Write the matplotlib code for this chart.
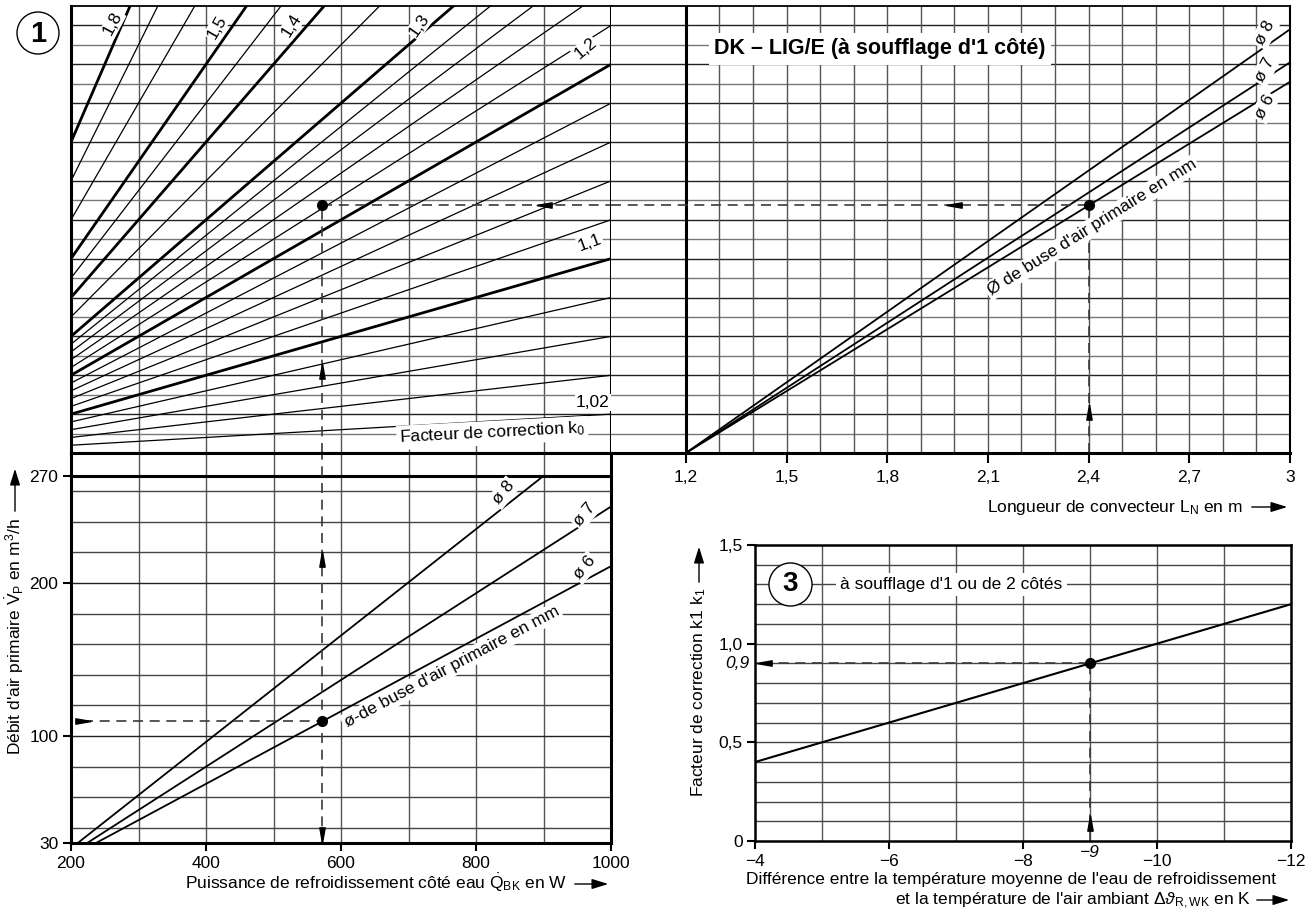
import numpy as np
import matplotlib.pyplot as plt
from matplotlib.patches import Ellipse, FancyArrowPatch

plt.rcParams['font.family'] = ['Liberation Sans', 'DejaVu Sans']
plt.rcParams['mathtext.fontset'] = 'custom'
plt.rcParams['mathtext.rm'] = 'Liberation Sans'
plt.rcParams['mathtext.it'] = 'Liberation Sans:italic'
plt.rcParams['mathtext.bf'] = 'Liberation Sans:bold'
plt.rcParams['font.size'] = 12.5

# --- panel 1 top left: correction factor k0 (extra power dQ in W, read at Q=200 and Q=1000)
k0_values = [1.02, 1.04, 1.06, 1.08, 1.10, 1.12, 1.14, 1.16, 1.18, 1.20, 1.22,
             1.24, 1.26, 1.28, 1.30, 1.35, 1.40, 1.45, 1.50, 1.60, 1.70, 1.80]
dq_at_200 = [4, 8, 12, 16, 20, 24, 28, 32, 36, 40, 44,
             48, 52, 56, 60, 70, 80, 90, 100, 120, 140, 160]
dq_at_1000 = [20, 40, 60, 80, 100, 120, 140, 160, 180, 200, 220,
              240, 260, 280, 300, 350, 400, 450, 500, 600, 700, 800]
k0_bold = [1.10, 1.20, 1.30, 1.40, 1.50, 1.80]

# --- panel 1 top right: nozzle lines, dQ vs convector length
nozzles = ['ø 8', 'ø 7', 'ø 6']
length_span = [1.2, 3.0]
dq_nozzle_end = [218, 201, 191]
length_ticks = [1.2, 1.5, 1.8, 2.1, 2.4, 2.7, 3.0]
length_labels = ['1,2', '1,5', '1,8', '2,1', '2,4', '2,7', '3']

# --- panel 1 bottom left: primary air flow vs cooling power
q_nozzle_start = [210, 224, 237]
q_nozzle_end = [900, 1000, 1000]
v_nozzle_end = [270, 250, 211]
q_ticks = [200, 400, 600, 800, 1000]
v_ticks = [30, 100, 200, 270]

# --- panel 3: correction factor k1
dtheta = [-4, -12]
k1 = [0.4, 1.2]
dtheta_ticks = [-4, -6, -8, -10, -12]
k1_ticks = [0, 0.5, 1.0, 1.5]
k1_labels = ['0', '0,5', '1,0', '1,5']

# worked example
q_ex, dq_ex, len_ex, v_ex = 572, 127.5, 2.4, 110
dt_ex, k1_ex = -9, 0.9

W, H = 1307, 916
fig = plt.figure(figsize=(W / 100, H / 100), dpi=100)


def add_ax(l, t, r, b):
    return fig.add_axes([l / W, 1 - b / H, (r - l) / W, (b - t) / H])


def fxy(x, y):
    return (x / W, 1 - y / H)


def fig_arrow(x0, y0, x1, y1):
    fig.add_artist(FancyArrowPatch(fxy(x0, y0), fxy(x1, y1), transform=fig.transFigure,
                                   arrowstyle='-|>,head_length=0.9,head_width=0.28',
                                   mutation_scale=11, lw=1, color='k'))


ax_tl = add_ax(71, 6, 611, 453)
ax_tr = add_ax(611, 6, 1290, 453)
ax_bl = add_ax(71, 453, 611, 843)
ax_br = add_ax(755, 545, 1291, 841)

GRID_D, GRID_L = '#222222', '#777777'
DASH = dict(color='#3a3a3a', lw=1.2, ls=(0, (6, 4)), zorder=2.5)
ARR_L = [(-1, 0), (1, 0.35), (1, -0.35), (-1, 0)]
ARR_R = [(1, 0), (-1, 0.35), (-1, -0.35), (1, 0)]
ARR_U = [(0, 1), (0.35, -1), (-0.35, -1), (0, 1)]
ARR_D = [(0, -1), (0.35, 1), (-0.35, 1), (0, -1)]
BOX = dict(facecolor='white', edgecolor='none', pad=1.5)

# ---------------- top left
ax_tl.set_xlim(200, 1000)
ax_tl.set_ylim(0, 230)
for q in range(300, 1000, 100):
    ax_tl.axvline(q, color='#555555', lw=1, zorder=1)
for y in range(10, 230, 10):
    c = GRID_D if (y // 10) % 2 == 0 else GRID_L
    ax_tl.axhline(y, color=c, lw=1, zorder=1)
    ax_tr.axhline(y, color=c, lw=1, zorder=1)
for k, a, b in zip(k0_values, dq_at_200, dq_at_1000):
    ax_tl.plot([200, 1000], [a, b], color='k', lw=2.0 if k in k0_bold else 0.9, zorder=2)
for txt, q, y, rot in [('1,8', 262, 221, 62), ('1,5', 416, 219, 60), ('1,4', 527, 220, 58),
                       ('1,3', 716, 220, 55), ('1,2', 962, 208, 40), ('1,1', 969, 108, 20),
                       ('1,02', 973, 26, 0)]:
    ax_tl.text(q, y, txt, rotation=rot, ha='center', va='center', zorder=3,
               bbox=dict(facecolor='white', edgecolor='none', pad=0.8))
ax_tl.text(824, 10.3, 'Facteur de correction k$_0$', rotation=3, ha='center', va='center',
           zorder=3, bbox=dict(facecolor='white', edgecolor='none', pad=2))
ax_tl.plot([q_ex, q_ex], [0, dq_ex], **DASH)
ax_tl.plot([q_ex, 1000], [dq_ex, dq_ex], **DASH)
ax_tl.plot(q_ex, dq_ex, 'o', color='k', ms=7, zorder=5)
ax_tl.plot(900, dq_ex, marker=ARR_L, color='k', ms=11, zorder=5)
ax_tl.plot(q_ex, 42, marker=ARR_U, color='k', ms=11, zorder=5)
ax_tl.set_xticks([])
ax_tl.set_yticks([])
for s in ['left', 'right', 'bottom']:
    ax_tl.spines[s].set_linewidth(2.2)
ax_tl.spines['top'].set_linewidth(1.3)

# ---------------- top right
ax_tr.set_xlim(0.977, 3.0)
ax_tr.set_ylim(0, 230)
for x in np.arange(1.3, 2.95, 0.1):
    ax_tr.axvline(x, color='#555555', lw=1, zorder=1)
ax_tr.axvline(1.2, color='k', lw=2.2, zorder=2)
for name, yend in zip(nozzles, dq_nozzle_end):
    ax_tr.plot(length_span, [0, yend], color='k', lw=1.3, zorder=2)
for txt, y in zip(nozzles, [216, 197, 178]):
    ax_tr.text(2.925, y, txt, rotation=62, ha='center', va='center', zorder=3, bbox=BOX)
ax_tr.text(1.778, 208, "DK – LIG/E (à soufflage d'1 côté)", fontsize=15.5, fontweight='bold',
           ha='center', va='center', zorder=3,
           bbox=dict(facecolor='white', edgecolor='none', pad=4))
ax_tr.text(2.41, 116, "Ø de buse d'air primaire en mm", rotation=32, rotation_mode='anchor',
           ha='center', va='center', zorder=3, bbox=BOX)
ax_tr.plot([0.977, len_ex], [dq_ex, dq_ex], **DASH)
ax_tr.plot([len_ex, len_ex], [0, dq_ex], **DASH)
ax_tr.plot(len_ex, dq_ex, 'o', color='k', ms=7, zorder=5)
ax_tr.plot(2.0, dq_ex, marker=ARR_L, color='k', ms=11, zorder=5)
ax_tr.plot(len_ex, 21, marker=ARR_U, color='k', ms=11, zorder=5)
ax_tr.set_xticks(length_ticks)
ax_tr.set_xticklabels(length_labels)
ax_tr.set_yticks([])
ax_tr.tick_params(axis='x', direction='out', length=7, width=1.5, pad=5)
ax_tr.spines['left'].set_visible(False)
ax_tr.spines['bottom'].set_linewidth(2.2)
ax_tr.spines['top'].set_linewidth(1.3)
ax_tr.spines['right'].set_linewidth(1.5)

# ---------------- bottom left
ax_bl.set_xlim(200, 1000)
ax_bl.set_ylim(30, 285)
for q in range(300, 1000, 100):
    ax_bl.axvline(q, color='#555555', lw=1, zorder=1)
for v in range(40, 261, 20):
    ax_bl.axhline(v, color=GRID_D if v % 100 == 0 else '#444444', lw=1, zorder=1)
ax_bl.axhline(270, color='k', lw=2.2, zorder=2)
for q0, q1, v1 in zip(q_nozzle_start, q_nozzle_end, v_nozzle_end):
    ax_bl.plot([q0, q1], [30, v1], color='k', lw=1.3, zorder=2)
for txt, q, v in zip(nozzles, [841, 961, 961], [259, 245, 210]):
    ax_bl.text(q, v, txt, rotation=50, ha='center', va='center', zorder=3, bbox=BOX)
ax_bl.text(764, 145, "ø-de buse d'air primaire en mm", rotation=28, rotation_mode='anchor',
           ha='center', va='center', zorder=3, bbox=BOX)
ax_bl.plot([q_ex, q_ex], [30, 285], **DASH)
ax_bl.plot([218, q_ex], [v_ex, v_ex], **DASH)
ax_bl.plot(q_ex, v_ex, 'o', color='k', ms=7, zorder=5)
ax_bl.plot(218, v_ex, marker=ARR_R, color='k', ms=11, zorder=5)
ax_bl.plot(q_ex, 216, marker=ARR_U, color='k', ms=11, zorder=5)
ax_bl.plot(q_ex, 35, marker=ARR_D, color='k', ms=11, zorder=5)
ax_bl.set_xticks(q_ticks)
ax_bl.set_yticks(v_ticks)
ax_bl.tick_params(direction='out', length=6, width=1.5, pad=3)
for s in ax_bl.spines.values():
    s.set_linewidth(2.2)

# ---------------- bottom right (panel 3)
ax_br.set_xlim(-4, -12)
ax_br.set_ylim(0, 1.5)
for x in range(-5, -12, -1):
    ax_br.axvline(x, color='#555555', lw=1, zorder=1)
for y in np.arange(0.1, 1.45, 0.1):
    ax_br.axhline(y, color='#444444', lw=1, zorder=1)
ax_br.plot(dtheta, k1, color='k', lw=1.5, zorder=2)
ax_br.plot([-4.1, dt_ex], [k1_ex, k1_ex], **DASH)
ax_br.plot([dt_ex, dt_ex], [0, k1_ex], **DASH)
ax_br.plot(dt_ex, k1_ex, 'o', color='k', ms=7, zorder=5)
ax_br.plot(-4.13, k1_ex, marker=ARR_L, color='k', ms=11, zorder=5)
ax_br.plot(dt_ex, 0.09, marker=ARR_U, color='k', ms=11, zorder=5)
ax_br.plot(-4.52, 1.3, 'o', ms=31, mfc='white', mec='k', mew=1, zorder=4, clip_on=False)
ax_br.text(-4.52, 1.3, '3', fontsize=20, fontweight='bold', ha='center', va='center', zorder=5)
ax_br.text(-6.93, 1.3, "à soufflage d'1 ou de 2 côtés", ha='center', va='center', zorder=3,
           bbox=dict(facecolor='white', edgecolor='none', pad=3))
ax_br.set_xticks(dtheta_ticks)
ax_br.set_xticklabels(['−4', '−6', '−8', '−10', '−12'])
ax_br.set_yticks(k1_ticks)
ax_br.set_yticklabels(k1_labels)
ax_br.tick_params(direction='out', length=6, width=1.5, pad=3)
ax_br.annotate('−9', xy=(dt_ex, 0), xytext=(0, -3), textcoords='offset points',
               ha='center', va='top', style='italic')
ax_br.annotate('0,9', xy=(-4, k1_ex), xytext=(-4, 0), textcoords='offset points',
               ha='right', va='center', style='italic')
for s in ax_br.spines.values():
    s.set_linewidth(1.8)

# ---------------- axis titles with arrows, circle 1
fig.text(*fxy(567, 889), 'Puissance de refroidissement côté eau $\\dot{\\mathrm{Q}}_{\\mathrm{BK}}$ en W',
         ha='right', va='baseline')
fig_arrow(572, 884, 611, 884)
fig.text(*fxy(15, 518), "Débit d'air primaire $\\dot{\\mathrm{V}}_{\\mathrm{P}}$ en m$^3$/h",
         rotation=90, rotation_mode='anchor', ha='right', va='center')
fig_arrow(15, 514, 15, 466)
fig.text(*fxy(1243, 512), 'Longueur de convecteur L$_{\\mathrm{N}}$ en m', ha='right', va='baseline')
fig_arrow(1249, 507, 1290, 507)
fig.text(*fxy(699, 588), 'Facteur de correction k1 k$_1$', rotation=90, rotation_mode='anchor',
         ha='right', va='center')
fig_arrow(699, 585, 699, 544)
fig.text(*fxy(1276, 884), "Différence entre la température moyenne de l'eau de refroidissement",
         ha='right', va='baseline')
fig.text(*fxy(1251, 905), "et la température de l'air ambiant Δ$\\vartheta_{\\mathrm{R,WK}}$ en K",
         ha='right', va='baseline')
fig_arrow(1254, 900, 1292, 900)

fig.add_artist(Ellipse(fxy(38, 33), 42 / W, 42 / H, transform=fig.transFigure,
                       fill=False, lw=1, color='k'))
fig.text(*fxy(38, 34), '1', fontsize=21, fontweight='bold', ha='center', va='center')

fig.savefig('out.png', dpi=100)
